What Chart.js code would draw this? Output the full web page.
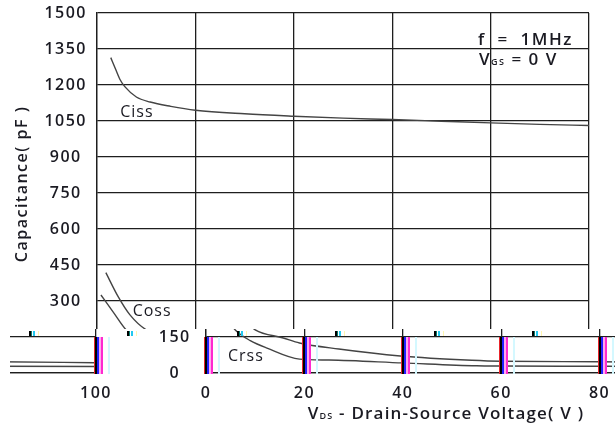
<!DOCTYPE html>
<html>
<head>
<meta charset="utf-8">
<script src="https://cdn.jsdelivr.net/npm/chart.js@4.4.1/dist/chart.umd.min.js"></script>
<style>
  html, body { margin: 0; padding: 0; background: #fff; }
  #wrap { width: 615px; height: 428px; }
</style>
</head>
<body>
<div id="wrap"><canvas id="cap" width="615" height="428"></canvas></div>
<script>
// Capacitance vs. drain-source voltage
const vdsCiss = [2.8, 3.7, 4.7, 5.7, 8, 10.8, 15, 20, 30, 40, 50, 60, 70, 80, 90, 100];
const ciss    = [1314, 1270, 1222, 1192, 1150, 1129, 1111, 1095, 1080, 1070, 1062, 1056, 1049, 1042, 1036, 1031];
const vdsCoss = [1.8, 4.3, 6.7, 10, 15.7, 19, 27, 39.5, 54, 60, 80, 100];
const coss    = [418, 318, 242, 180, 146, 125, 100, 71, 53, 49, 47, 43];
const vdsCrss = [0.8, 3.3, 6, 9, 12.4, 19, 25, 40, 55, 60, 80, 100];
const crss    = [325, 254, 178, 135, 104, 58, 54, 42, 30, 29, 28, 27];

const xTicks = [0, 20, 40, 60, 80, 100];
const yTicks = [0, 150, 300, 450, 600, 750, 900, 1050, 1200, 1350, 1500];

// curve names and where they are written (data coords)
const curveNames = ['Ciss', 'Coss', 'Crss'];
const nameAt = [[8.1, 1086], [11.2, 256], [8.1, 67]];

const FONT = '"Open Sans", "DejaVu Sans", sans-serif';
const WEIGHT = '600';
const INK = '#1a1a22';
const GRID = '#1e1e1e';

function pts(xs, ys) {
    return xs.map((x, i) => ({ x: x, y: ys[i] }));
}

// draw a run of [text, size] pieces, starting at x (or centred on it)
function drawRuns(ctx, runs, x, y, align) {
    let total = 0;
    runs.forEach(r => { ctx.font = WEIGHT + ' ' + r[1] + 'px ' + FONT; total += ctx.measureText(r[0]).width; });
    let cx = align === 'center' ? x - total / 2 : x;
    ctx.textAlign = 'left';
    runs.forEach(r => {
        ctx.font = WEIGHT + ' ' + r[1] + 'px ' + FONT;
        ctx.fillText(r[0], cx, y);
        cx += ctx.measureText(r[0]).width;
    });
}

//----------------------------------------------
// texts: curve names, conditions, axis titles
//----------------------------------------------
const textPlugin = {
    id: 'texts',
    beforeDraw(chart) {
        const ctx = chart.ctx;
        ctx.save();
        ctx.fillStyle = '#fff';
        ctx.fillRect(0, 0, chart.width, chart.height);
        ctx.restore();
        ctx.letterSpacing = '1.5px';
    },
    afterDatasetsDraw(chart) {
        const ctx = chart.ctx;
        const xs = chart.scales.x, ys = chart.scales.y;
        const area = chart.chartArea;
        ctx.save();
        ctx.fillStyle = INK;
        ctx.textBaseline = 'middle';
        ctx.letterSpacing = '1px';
        for (let i = 0; i < curveNames.length; i++) {
            ctx.font = '500 16px ' + FONT;
            ctx.textAlign = 'center';
            ctx.fillText(curveNames[i], xs.getPixelForValue(nameAt[i][0]), ys.getPixelForValue(nameAt[i][1]));
        }

        // test conditions
        ctx.textBaseline = 'alphabetic';
        ctx.letterSpacing = '1.5px';
        drawRuns(ctx, [['f  =  1MHz', 17]], area.right - 111, area.top + 32, 'left');
        drawRuns(ctx, [['V', 17], ['GS', 9], [' = 0 V', 17]], area.right - 110, area.top + 52, 'left');

        // y title
        ctx.save();
        ctx.translate(area.left - 75, area.top + 171);
        ctx.rotate(-Math.PI / 2);
        ctx.textBaseline = 'middle';
        ctx.letterSpacing = '1.5px';
        drawRuns(ctx, [['Capacitance( pF )', 16]], 0, 0, 'center');
        ctx.restore();

        // x title
        ctx.letterSpacing = '1.2px';
        drawRuns(ctx, [['V', 17], ['DS', 9], [' - Drain-Source Voltage( V )', 17]],
            (area.left + area.right) / 2 - 6, area.bottom + 46, 'center');
        ctx.restore();
    },
    afterDraw(chart) {
        chart.ctx.letterSpacing = '0px';
    }
};

//----------------------------------------------
// bottom band of the scan is slid sideways and wrapped
//----------------------------------------------
const BAND_TOP = 329, SHIFT = 109, WRAP = 602;

const bandPlugin = {
    id: 'band',
    afterDraw(chart) {
        const c = chart.canvas, ctx = chart.ctx;
        const w = c.width, h = c.height - BAND_TOP;
        const tmp = document.createElement('canvas');
        tmp.width = w; tmp.height = h;
        tmp.getContext('2d').drawImage(c, 0, BAND_TOP, w, h, 0, 0, w, h);

        ctx.save();
        ctx.setTransform(1, 0, 0, 1, 0, 0);
        ctx.fillStyle = '#fff';
        ctx.fillRect(0, BAND_TOP, w, h);
        ctx.drawImage(tmp, SHIFT, BAND_TOP);
        ctx.save();
        ctx.beginPath();
        ctx.rect(10, BAND_TOP, SHIFT + 13 - 10, h);
        ctx.clip();
        ctx.fillRect(10, BAND_TOP, SHIFT + 3, h);
        ctx.drawImage(tmp, SHIFT - WRAP, BAND_TOP);
        ctx.restore();

        // colour fringes along each shifted grid line
        const xs = chart.scales.x, ys = chart.scales.y;
        const top = Math.round(ys.getPixelForValue(150));
        const bot = Math.round(ys.getPixelForValue(0)) + 1;
        const fringe = [[-2, 1, '#e8242a'], [-1, 2, '#000'], [1, 2, '#2020ff'], [3, 2, '#ffa8ec'], [5, 2, '#ff2ad0'], [12, 2, '#d4f8ff']];
        const marks = [[31, 2, '#000'], [33, 1, '#0a7a6a'], [35, 2, '#22c8f0'], [40, 1, '#fff6b0']];
        xTicks.forEach(v => {
            let px = Math.round(xs.getPixelForValue(v)) + SHIFT;
            if (px >= w) px -= WRAP;
            fringe.forEach(f => {
                ctx.fillStyle = f[2];
                ctx.fillRect(px + f[0], top, f[1], bot - top);
            });
            marks.forEach(m => {
                ctx.fillStyle = m[2];
                let mx = px + m[0];
                if (mx >= w) mx -= WRAP;
                ctx.fillRect(mx, BAND_TOP + 2, m[1], top - BAND_TOP - 3);
            });
        });
        ctx.restore();
    }
};

const lineStyle = {
    borderColor: '#444',
    borderWidth: 1.4,
    pointRadius: 0,
    fill: false,
    cubicInterpolationMode: 'monotone'
};

new Chart(document.getElementById('cap'), {
    type: 'line',
    data: {
        datasets: [
            Object.assign({ label: 'Ciss', data: pts(vdsCiss, ciss) }, lineStyle),
            Object.assign({ label: 'Coss', data: pts(vdsCoss, coss) }, lineStyle),
            Object.assign({ label: 'Crss', data: pts(vdsCrss, crss) }, lineStyle)
        ]
    },
    options: {
        responsive: false,
        animation: false,
        devicePixelRatio: 1,
        layout: { padding: { top: 13, right: 26, left: 0, bottom: 0 } },
        plugins: { legend: { display: false }, tooltip: { enabled: false } },
        scales: {
            x: {
                type: 'linear',
                min: 0, max: 100,
                afterFit(scale) {
                    scale.height = 55;
                    scale.paddingLeft = 0; scale.paddingRight = 0;
                },
                afterBuildTicks(scale) { scale.ticks = xTicks.map(v => ({ value: v })); },
                grid: { color: GRID, lineWidth: 1.3, drawTicks: false },
                border: { color: GRID, width: 1.3 },
                ticks: {
                    padding: 11, color: INK, maxRotation: 0,
                    font: { family: FONT, size: 16, weight: WEIGHT },
                    callback: v => String(v)
                }
            },
            y: {
                min: 0, max: 1500,
                afterFit(scale) {
                    scale.width = 97;
                    scale.paddingTop = 0; scale.paddingBottom = 0;
                },
                afterBuildTicks(scale) { scale.ticks = yTicks.map(v => ({ value: v })); },
                grid: { color: GRID, lineWidth: 1.3, drawTicks: false },
                border: { color: GRID, width: 1.3 },
                ticks: {
                    padding: 13, crossAlign: 'center', color: INK,
                    font: { family: FONT, size: 16, weight: WEIGHT },
                    callback: v => String(v)
                }
            }
        }
    },
    plugins: [textPlugin, bandPlugin]
});
</script>
</body>
</html>
